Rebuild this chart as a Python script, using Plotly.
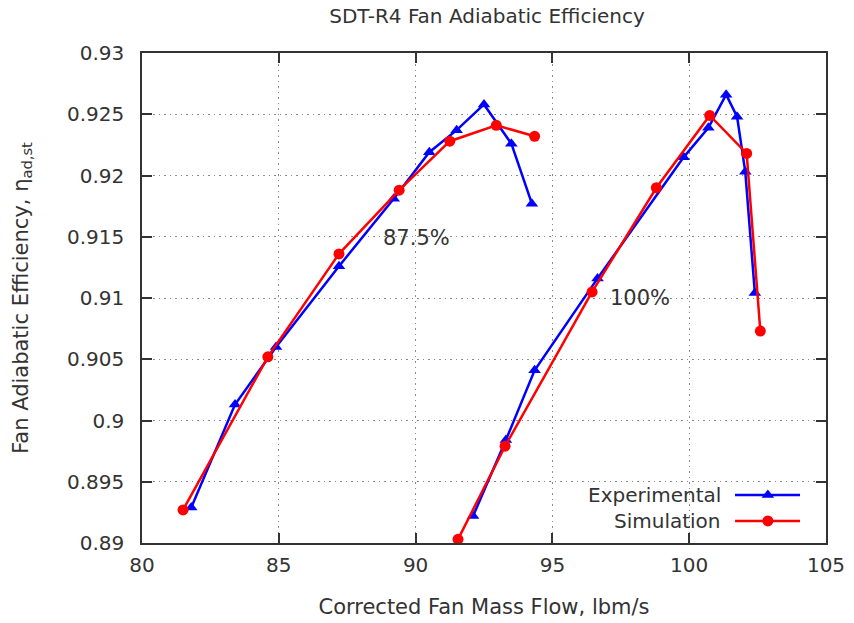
import plotly.graph_objects as go

# ---- data ----
exp_875_x = [81.8, 83.4, 84.9, 87.2, 89.2, 90.5, 91.5, 92.5, 93.5, 94.25]
exp_875_y = [0.8929, 0.9013, 0.9060, 0.9126, 0.9181, 0.9219, 0.9237, 0.9258, 0.9226, 0.9177]
sim_875_x = [81.5, 84.6, 87.2, 89.4, 91.25, 92.95, 94.35]
sim_875_y = [0.8927, 0.9052, 0.9136, 0.9188, 0.9228, 0.9241, 0.9232]

exp_100_x = [92.1, 93.3, 94.35, 96.65, 99.8, 100.7, 101.35, 101.75, 102.05, 102.4]
exp_100_y = [0.8922, 0.8984, 0.9041, 0.9116, 0.9215, 0.9239, 0.9266, 0.9248, 0.9203, 0.9104]
sim_100_x = [91.55, 93.27, 96.45, 98.8, 100.75, 102.1, 102.6]
sim_100_y = [0.8903, 0.8979, 0.9105, 0.9190, 0.9249, 0.9218, 0.9073]

x_ticks = [80, 85, 90, 95, 100, 105]
y_ticks = [0.89, 0.895, 0.90, 0.905, 0.91, 0.915, 0.92, 0.925, 0.93]
y_tick_text = ["0.89", "0.895", "0.9", "0.905", "0.91", "0.915", "0.92", "0.925", "0.93"]

labels = [("87.5%", 90.05, 0.9149), ("100%", 98.2, 0.9100)]
series_names = ["Experimental", "Simulation"]

BLUE = "#0000ff"
RED = "#ff0000"
FONT = "DejaVu Sans"
TXT = "#333333"

fig = go.Figure()

def add(x, y, color, symbol):
    fig.add_trace(go.Scatter(
        x=x, y=y, mode="lines+markers",
        line=dict(color=color, width=2.5),
        marker=dict(symbol=symbol, size=11, color=color),
        showlegend=False, hoverinfo="x+y"))

add(exp_875_x, exp_875_y, BLUE, "triangle-up")
add(sim_875_x, sim_875_y, RED, "circle")
add(exp_100_x, exp_100_y, BLUE, "triangle-up")
add(sim_100_x, sim_100_y, RED, "circle")

# manual gnuplot-style legend (text left, sample right) on hidden overlay axes
leg_y = [0.098, 0.045]
leg_styles = [(BLUE, "triangle-up"), (RED, "circle")]
for name, ly, (c, s) in zip(series_names, leg_y, leg_styles):
    fig.add_trace(go.Scatter(
        x=[0.867, 0.962], y=[ly, ly], xaxis="x2", yaxis="y2",
        mode="lines", line=dict(color=c, width=2.5),
        showlegend=False, hoverinfo="skip"))
    fig.add_trace(go.Scatter(
        x=[0.915], y=[ly], xaxis="x2", yaxis="y2",
        mode="markers", marker=dict(symbol=s, size=11, color=c),
        showlegend=False, hoverinfo="skip"))
    fig.add_annotation(text=name, x=0.849, y=ly, xref="x2", yref="y2",
                       xanchor="right", yanchor="middle", showarrow=False,
                       font=dict(family=FONT, size=20, color=TXT))

for txt, lx, ly in labels:
    fig.add_annotation(text=txt, x=lx, y=ly, showarrow=False,
                       xanchor="center", yanchor="middle",
                       font=dict(family=FONT, size=21, color=TXT))

axis_common = dict(
    showline=True, linecolor="#333333", linewidth=1.5, mirror="allticks",
    ticks="inside", ticklen=10, tickwidth=1.5, tickcolor="#333333",
    showgrid=True, gridcolor="#8a8a8a", griddash="1.5px,4px", gridwidth=1,
    zeroline=False, automargin=False,
    tickfont=dict(family=FONT, size=20, color=TXT),
)

fig.update_layout(
    width=854, height=623,
    margin=dict(l=142, r=28, t=53, b=80),
    paper_bgcolor="white", plot_bgcolor="white",
    title=dict(text="SDT-R4 Fan Adiabatic Efficiency", x=0.5703, xanchor="center",
               y=0.975, yanchor="middle",
               font=dict(family=FONT, size=20, color=TXT)),
    xaxis=dict(range=[80, 105], tickvals=x_ticks, ticktext=[str(v) for v in x_ticks],
               ticklabelstandoff=3,
               title=dict(text="Corrected Fan Mass Flow, lbm/s", standoff=24,
                          font=dict(family=FONT, size=21, color=TXT)),
               **axis_common),
    yaxis=dict(range=[0.89, 0.93], tickvals=y_ticks, ticktext=y_tick_text,
               ticklabelstandoff=12,
               title=dict(text="Fan Adiabatic Efficiency, η<sub>ad,st</sub>", standoff=33,
                          font=dict(family=FONT, size=21, color=TXT)),
               **axis_common),
    xaxis2=dict(range=[0, 1], overlaying="x", visible=False, fixedrange=True),
    yaxis2=dict(range=[0, 1], overlaying="y", visible=False, fixedrange=True),
)

fig.write_html("out.html")
